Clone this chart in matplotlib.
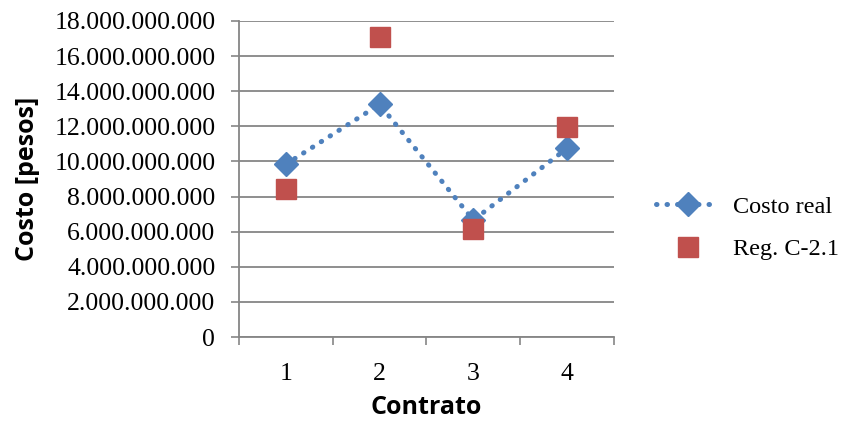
import numpy as np
import matplotlib.pyplot as plt
from matplotlib.ticker import FuncFormatter

contratos = [1, 2, 3, 4]
costo_real = [9.84e9, 13.25e9, 6.66e9, 10.75e9]
reg_c21 = [8.41e9, 17.07e9, 6.13e9, 11.94e9]

azul = "#4F81BD"
rojo = "#C0504D"
gris = "#868686"

fig = plt.figure(figsize=(8.48, 4.24), dpi=100)
ax = fig.add_axes([0.2818, 0.205, 0.724 - 0.2818, 0.9505 - 0.205])

x = np.arange(len(contratos))
ax.plot(x, costo_real, linestyle=(0, (0.1, 2.0)), dash_capstyle="round",
        linewidth=3.6, color=azul, marker="D", markersize=12,
        label="Costo real")
ax.plot(x, reg_c21, linestyle="none", marker="s", markersize=14,
        color=rojo, label="Reg. C-2.1")

ax.set_xlim(-0.5, len(contratos) - 0.5)
ax.set_ylim(0, 18e9)
ax.set_yticks(np.arange(0, 18e9 + 1, 2e9))
ax.yaxis.set_major_formatter(FuncFormatter(lambda v, p: f"{int(v):,}".replace(",", ".")))
ax.set_xticks(x)
ax.set_xticklabels([str(c) for c in contratos])
ax.set_xticks(np.arange(-0.5, len(contratos), 1), minor=True)
ax.tick_params(axis="x", which="major", length=0, pad=19)
ax.tick_params(axis="x", which="minor", length=6, color=gris, width=1.2)
ax.tick_params(axis="y", length=6, color=gris, width=1.2, pad=11)

for lab in ax.get_xticklabels() + ax.get_yticklabels():
    lab.set_fontfamily("Liberation Serif")
    lab.set_fontsize(18.5)

ax.grid(axis="y", color=gris, linewidth=1.3)
ax.set_axisbelow(True)
for s in ["top", "right"]:
    ax.spines[s].set_visible(False)
for s in ["left", "bottom"]:
    ax.spines[s].set_color(gris)
    ax.spines[s].set_linewidth(1.3)

ax.set_ylabel("Costo [pesos]", fontsize=18, fontweight="bold",
              fontfamily="Open Sans", labelpad=10)
ax.set_xlabel("Contrato", fontsize=18, fontweight="bold",
              fontfamily="Open Sans", labelpad=7)

leg = ax.legend(loc="center left", bbox_to_anchor=(644 / 848, 1 - 228 / 424),
                bbox_transform=fig.transFigure, frameon=False, borderpad=0,
                prop={"family": "Liberation Serif", "size": 17.5},
                handlelength=2.6, handletextpad=0.55, labelspacing=0.85)

fig.savefig("out.png", dpi=100)
